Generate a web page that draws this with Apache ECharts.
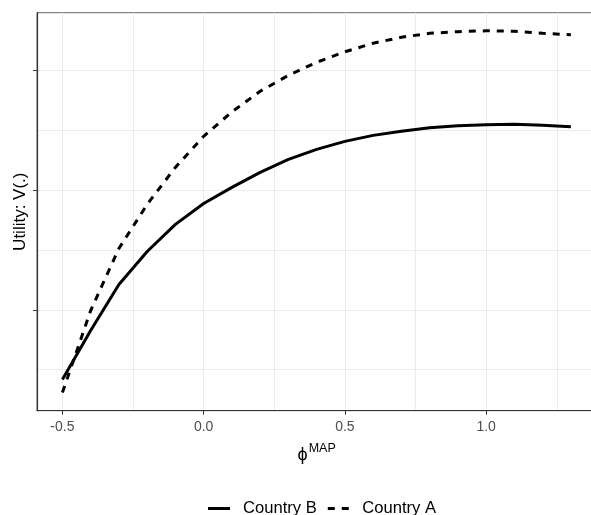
<!DOCTYPE html>
<html><head><meta charset="utf-8">
<script src="https://cdn.jsdelivr.net/npm/echarts@6/dist/echarts.min.js"></script>
<style>html,body{margin:0;padding:0;background:#fff}#c{width:591px;height:515px}</style>
</head><body><div id="c"></div>
<script>
// phi^MAP values (x)
const phiValues = [-0.5,-0.4,-0.3,-0.2,-0.1,0.0,0.1,0.2,0.3,0.4,0.5,0.6,0.7,0.8,0.9,1.0,1.1,1.2,1.3];
// Utility V(.) — arbitrary units (axis has no labels)
const countryB = [0.418,0.827,1.211,1.487,1.713,1.888,2.022,2.147,2.256,2.339,2.406,2.456,2.490,2.519,2.536,2.544,2.548,2.540,2.529];
const countryA = [0.309,0.994,1.512,1.880,2.189,2.448,2.652,2.824,2.957,3.066,3.154,3.225,3.275,3.308,3.322,3.329,3.325,3.308,3.296];
const xTickValues = [-0.5, 0.0, 0.5, 1.0];
const xGridValues = [-0.5, -0.25, 0.0, 0.25, 0.5, 0.75, 1.0, 1.25];
const yTickValues = [1, 2, 3];
const yGridValues = [0.5, 1, 1.5, 2, 2.5, 3];
const seriesNames = ['Country B', 'Country A'];

const xMin = -0.59, xMax = 1.39, yMin = 0.158, yMax = 3.48;
const FONT = 'Liberation Sans, Arial, sans-serif';

const chart = echarts.init(document.getElementById('c'), null, {renderer: 'canvas'});
const pairs = arr => phiValues.map((x, i) => [x, arr[i]]);

chart.setOption({
  animation: false,
  backgroundColor: '#fff',
  textStyle: {fontFamily: FONT},
  grid: {left: 37, top: 12.7, right: -5.3, bottom: 104.3, show: true, borderColor: '#666', borderWidth: 1,
         containLabel: false, outerBoundsMode: 'none'},
  legend: {
    data: [
      {name: seriesNames[0], icon: 'path://M0,0H22V3H0Z'},
      {name: seriesNames[1], icon: 'path://M0,0H7V3H0ZM14,0H21V3H14Z'}
    ],
    left: 208, top: 500, padding: 0, itemWidth: 22, itemHeight: 3, itemGap: 11,
    itemStyle: {color: '#000'},
    textStyle: {fontSize: 16.6, color: '#000', fontFamily: FONT, padding: [0,0,0,8]}
  },
  xAxis: [
    {type: 'value', min: xMin, max: xMax,
     axisLine: {show: true, onZero: false, lineStyle: {color: '#333', width: 1.2}},
     axisTick: {show: false, customValues: xGridValues}, axisLabel: {show: false, customValues: xGridValues},
     splitLine: {show: true, showMinLine: true, showMaxLine: true, lineStyle: {color: '#ebebeb', width: 1}},
     name: '{phi|ϕ}{sup|MAP}', nameLocation: 'middle', nameGap: 31,
     nameTextStyle: {rich: {
       phi: {fontSize: 18, color: '#000', fontFamily: FONT, verticalAlign: 'bottom', lineHeight: 22},
       sup: {fontSize: 12.5, color: '#000', fontFamily: FONT, verticalAlign: 'top', lineHeight: 22,
             padding: [0, 0, 3, 1]}
     }}},
    {type: 'value', min: xMin, max: xMax, position: 'bottom',
     axisLine: {show: false, onZero: false}, splitLine: {show: false},
     axisTick: {show: true, customValues: xTickValues, length: 4, lineStyle: {color: '#333'}},
     axisLabel: {show: true, customValues: xTickValues, margin: 9, fontSize: 14, color: '#4d4d4d', fontFamily: FONT,
                 formatter: v => v.toFixed(1)}}
  ],
  yAxis: [
    {type: 'value', min: yMin, max: yMax,
     axisLine: {show: true, onZero: false, lineStyle: {color: '#333', width: 1.2}},
     axisTick: {show: false, customValues: yGridValues}, axisLabel: {show: false, customValues: yGridValues},
     splitLine: {show: true, showMinLine: true, showMaxLine: true, lineStyle: {color: '#ebebeb', width: 1}},
     name: 'Utility: V(.)', nameLocation: 'middle', nameGap: 8,
     nameTextStyle: {fontSize: 17, color: '#000', fontFamily: FONT}},
    {type: 'value', min: yMin, max: yMax, position: 'left',
     axisLine: {show: false, onZero: false}, splitLine: {show: false},
     axisTick: {show: true, customValues: yTickValues, length: 4, lineStyle: {color: '#333'}},
     axisLabel: {show: false, customValues: yTickValues}}
  ],
  series: [
    {name: seriesNames[0], type: 'line', xAxisIndex: 0, yAxisIndex: 0, data: pairs(countryB),
     symbol: 'none', z: 3, lineStyle: {color: '#000', width: 3, type: 'solid'}, itemStyle: {color: '#000'}},
    {name: seriesNames[1], type: 'line', xAxisIndex: 0, yAxisIndex: 0, data: pairs(countryA),
     symbol: 'none', z: 3, lineStyle: {color: '#000', width: 3, type: [7, 7], cap: 'butt'}, itemStyle: {color: '#000'}}
  ]
});
</script></body></html>
